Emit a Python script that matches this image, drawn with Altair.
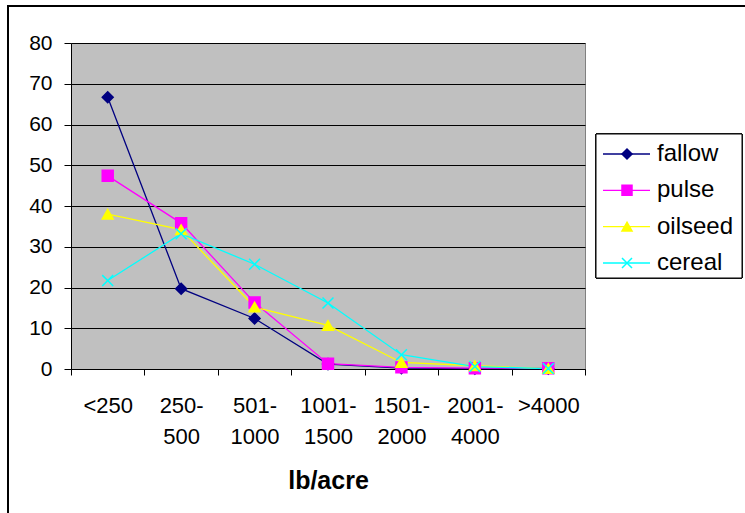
import altair as alt
import pandas as pd

categories = ["<250", "250-500", "501-1000", "1001-1500", "1501-2000", "2001-4000", ">4000"]
series = ["fallow", "pulse", "oilseed", "cereal"]
fallow = [66.7, 19.7, 12.4, 1.2, 0.2, 0.1, 0.1]
pulse = [47.4, 35.8, 16.3, 1.3, 0.4, 0.2, 0.2]
oilseed = [38.0, 34.2, 15.2, 10.7, 1.6, 0.8, 0.1]
cereal = [21.7, 33.2, 25.7, 16.2, 3.5, 0.6, 0.1]
colors = ["#000080", "#FF00FF", "#FFFF00", "#00FFFF"]
shapes = ["diamond", "square", "triangle-up", "M-1,-1L1,1M-1,1L1,-1"]

rows = []
for name, vals in zip(series, [fallow, pulse, oilseed, cereal]):
    for c, v in zip(categories, vals):
        rows.append({"bin": c, "series": name, "value": v})
df = pd.DataFrame(rows)
leg = pd.DataFrame({"series": series})

FONT = "Liberation Sans"
color_scale = alt.Scale(domain=series, range=colors)
shape_scale = alt.Scale(domain=series, range=shapes)

x_enc = alt.X(
    "bin:N",
    sort=categories,
    bandPosition=0.5,
    scale=alt.Scale(type="band", paddingInner=0, paddingOuter=0),
    axis=alt.Axis(
        title="lb/acre",
        labelAngle=0,
        tickBand="extent",
        grid=False,
        domainColor="black",
        tickColor="black",
        tickSize=6,
        labelFont=FONT,
        labelFontSize=22,
        labelColor="black",
        labelPadding=20,
        labelLineHeight=31,
        labelExpr="indexof(datum.label, '-') > 0 ? [substring(datum.label, 0, indexof(datum.label, '-') + 1), substring(datum.label, indexof(datum.label, '-') + 1)] : datum.label",
        titleFont=FONT,
        titleFontSize=25,
        titleFontWeight="bold",
        titleColor="black",
        titleY=119,
        titleBaseline="alphabetic",
    ),
)
y_scale = alt.Scale(domain=[0, 80])
y_axis = alt.Axis(
    title=None,
    values=list(range(0, 81, 10)),
    gridColor="black",
    gridWidth=1,
    domainColor="black",
    tickColor="black",
    tickSize=7,
    labelFont=FONT,
    labelFontSize=21,
    labelColor="black",
    labelPadding=12,
)

frame = alt.Chart(leg).mark_rect(fill="transparent", stroke="black", strokeWidth=2).encode(
    x=alt.value(-63), x2=alt.value(700), y=alt.value(-37), y2=alt.value(500)
)

lines = alt.Chart(df).mark_line(strokeWidth=1.3).encode(
    x=x_enc,
    y=alt.Y("value:Q", scale=y_scale, axis=y_axis),
    color=alt.Color("series:N", scale=color_scale, legend=None),
    order=alt.Order("series:N"),
)
points = alt.Chart(df).mark_point(filled=True, opacity=1, strokeWidth=1.5).encode(
    x=x_enc,
    y=alt.Y("value:Q", scale=y_scale, axis=None),
    color=alt.Color("series:N", scale=color_scale, legend=None),
    stroke=alt.Stroke("series:N", scale=color_scale, legend=None),
    shape=alt.Shape("series:N", scale=shape_scale, legend=None),
    size=alt.value(120),
)

ly = alt.Y("series:N", sort=series, scale=alt.Scale(type="point", domain=series, range=[111, 220], padding=0), axis=None)
lbox = alt.Chart(leg).mark_rect(fill="white", stroke="black", strokeWidth=1).encode(
    x=alt.value(525), x2=alt.value(671), y=alt.value(91), y2=alt.value(235)
)
lrule = alt.Chart(leg).mark_rule(strokeWidth=1.3).encode(
    x=alt.value(532), x2=alt.value(579), y=ly,
    color=alt.Color("series:N", scale=color_scale, legend=None),
)
lpoint = alt.Chart(leg).mark_point(filled=True, opacity=1, strokeWidth=1.5).encode(
    x=alt.value(556), y=ly,
    color=alt.Color("series:N", scale=color_scale, legend=None),
    stroke=alt.Stroke("series:N", scale=color_scale, legend=None),
    shape=alt.Shape("series:N", scale=shape_scale, legend=None),
    size=alt.value(100),
)
ltext = alt.Chart(leg).mark_text(align="left", baseline="middle", font=FONT, fontSize=24, color="black").encode(
    x=alt.value(586), y=ly, text="series:N"
)

chart = alt.layer(lines, points, frame, lbox, lrule, lpoint, ltext).resolve_scale(
    y="independent"
).properties(
    width=514,
    height=326,
    view=alt.ViewBackground(fill="#C0C0C0", stroke="#808080", strokeWidth=1),
    autosize=alt.AutoSizeParams(type="none"),
    padding={"left": 71, "top": 43, "right": 160, "bottom": 144},
    background="white",
)

chart.save("out.html", embed_options={"renderer": "svg", "actions": False})
